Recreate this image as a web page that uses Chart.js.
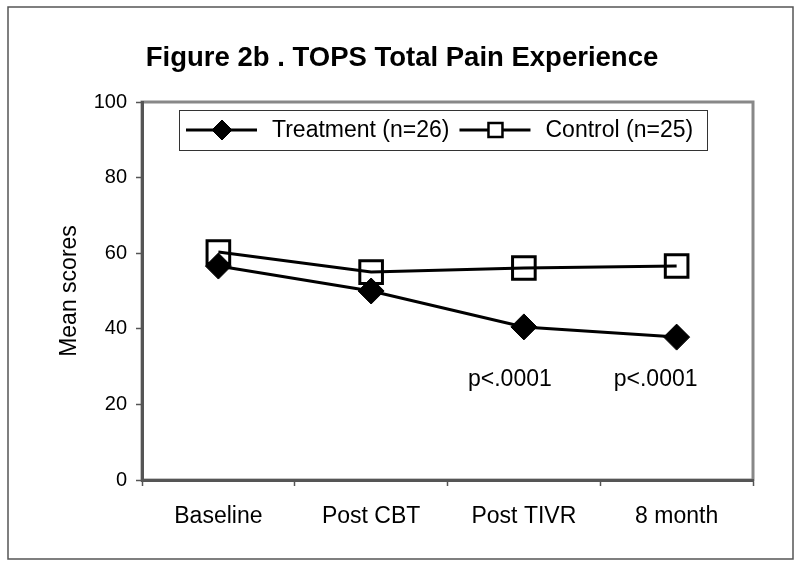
<!DOCTYPE html>
<html lang="en">
<head>
<meta charset="UTF-8">
<title>Figure 2b . TOPS Total Pain Experience</title>
<script src="https://cdn.jsdelivr.net/npm/chart.js@4"></script>
<style>
    body { margin: 0; background: #fff; }
    #wrap { width: 800px; height: 567px; }
</style>
</head>
<body>
<div id="wrap"><canvas id="painChart" width="800" height="567"></canvas></div>
<script>
const categories = ['Baseline', 'Post CBT', 'Post TIVR', '8 month'];
const treatmentScores = [56.6, 50, 40.5, 37.8];
const controlScores = [60.3, 55, 56.1, 56.6];
const yTicks = [0, 20, 40, 60, 80, 100];
const pNotes = ['', '', 'p<.0001', 'p<.0001'];
const chartTitle = 'Figure 2b . TOPS Total Pain Experience';
const yTitle = 'Mean scores';

const FONT = "'Liberation Sans', Arial, sans-serif";

function drawMarker(ctx, style, x, y, half, fill, lw) {
    ctx.beginPath();
    if (style === 'rectRot') {
        ctx.moveTo(x - half, y);
        ctx.lineTo(x, y - half);
        ctx.lineTo(x + half, y);
        ctx.lineTo(x, y + half);
    } else {
        ctx.rect(x - half, y - half, half * 2, half * 2);
    }
    ctx.closePath();
    if (fill) { ctx.fillStyle = '#000'; ctx.fill(); }
    ctx.lineWidth = lw;
    ctx.strokeStyle = '#000';
    ctx.stroke();
}

const decor = {
    id: 'decor',
    beforeDraw(chart) {
        const { ctx, chartArea: a } = chart;
        ctx.save();
        ctx.fillStyle = '#fff';
        ctx.fillRect(0, 0, chart.width, chart.height);
        ctx.strokeStyle = '#555';
        ctx.lineWidth = 1.5;
        ctx.strokeRect(8, 7, 785, 552);
        ctx.strokeStyle = '#888';
        ctx.lineWidth = 3;
        ctx.strokeRect(a.left, a.top, a.right - a.left, a.bottom - a.top);
        ctx.restore();
    },
    afterDatasetsDraw(chart) {
        const { ctx, chartArea: a, scales } = chart;
        ctx.save();
        // p-value notes under the points (sitting a little left of each point)
        ctx.font = '23px ' + FONT;
        ctx.fillStyle = '#000';
        ctx.textAlign = 'center';
        ctx.textBaseline = 'alphabetic';
        pNotes.forEach((txt, i) => {
            if (!txt) return;
            const shift = i === pNotes.length - 1 ? -21 : -14;
            ctx.fillText(txt, scales.x.getPixelForValue(i) + shift, scales.y.getPixelForValue(25));
        });

        // legend box
        const bx = a.left + 37, by = a.top + 8, bw = 528, bh = 40;
        ctx.fillStyle = '#fff';
        ctx.fillRect(bx, by, bw, bh);
        ctx.strokeStyle = '#333';
        ctx.lineWidth = 1;
        ctx.strokeRect(bx + 0.5, by + 0.5, bw, bh);
        const cy = by + bh / 2;
        let x = bx + 7;
        chart.data.datasets.forEach(ds => {
            ctx.beginPath();
            ctx.moveTo(x, cy);
            ctx.lineTo(x + 71, cy);
            ctx.lineWidth = 3;
            ctx.strokeStyle = '#000';
            ctx.stroke();
            if (ds.pointStyle === 'rectRot') {
                drawMarker(ctx, 'rectRot', x + 36, cy, 10, true, 1);
            } else {
                ctx.fillStyle = '#fff';
                ctx.fillRect(x + 36 - 7, cy - 7, 14, 14);
                drawMarker(ctx, 'rect', x + 36, cy, 7, false, 2.5);
            }
            ctx.fillStyle = '#000';
            ctx.font = '23px ' + FONT;
            ctx.textAlign = 'left';
            ctx.textBaseline = 'middle';
            ctx.fillText(ds.label, x + 86, cy + 1);
            x += 86 + ctx.measureText(ds.label).width + 10;
        });
        ctx.restore();
    }
};

new Chart(document.getElementById('painChart'), {
    type: 'line',
    data: {
        labels: categories,
        datasets: [
            {
                label: 'Treatment (n=26)',
                data: treatmentScores,
                borderColor: '#000',
                borderWidth: 3,
                pointStyle: 'rectRot',
                pointRadius: 13,
                pointBackgroundColor: '#000',
                pointBorderColor: '#000',
                pointBorderWidth: 1,
                tension: 0
            },
            {
                label: 'Control (n=25)',
                data: controlScores,
                borderColor: '#000',
                borderWidth: 3,
                pointStyle: 'rect',
                pointRadius: 16,
                pointBackgroundColor: 'rgba(0,0,0,0)',
                pointBorderColor: '#000',
                pointBorderWidth: 3,
                tension: 0
            }
        ]
    },
    options: {
        responsive: false,
        animation: false,
        devicePixelRatio: 1,
        layout: { padding: { left: 51, right: 47, top: 0, bottom: 0 } },
        plugins: {
            legend: { display: false },
            tooltip: { enabled: false },
            title: {
                display: true,
                text: chartTitle,
                color: '#000',
                font: { family: FONT, size: 27.5, weight: 'bold', lineHeight: 1.2 },
                padding: { top: 42, bottom: 27 }
            }
        },
        scales: {
            x: {
                offset: true,
                grid: { offset: true, drawOnChartArea: false, tickLength: 6, color: '#555', tickWidth: 1.5 },
                border: { display: true, color: '#555', width: 3 },
                ticks: { color: '#000', padding: 17, font: { family: FONT, size: 23 } },
                afterFit(scale) { scale.height = 87; }
            },
            y: {
                min: 0,
                max: 100,
                grid: { drawOnChartArea: false, tickLength: 6, color: '#555', tickWidth: 1.5 },
                border: { display: true, color: '#555', width: 3 },
                ticks: { color: '#000', padding: 9, font: { family: FONT, size: 20 } },
                afterBuildTicks(scale) { scale.ticks = yTicks.map(v => ({ value: v })); },
                title: {
                    display: true,
                    text: yTitle,
                    color: '#000',
                    font: { family: FONT, size: 23 },
                    padding: { top: 5, bottom: 0 }
                },
                afterFit(scale) { scale.width = 91; }
            }
        }
    },
    plugins: [decor]
});
</script>
</body>
</html>
